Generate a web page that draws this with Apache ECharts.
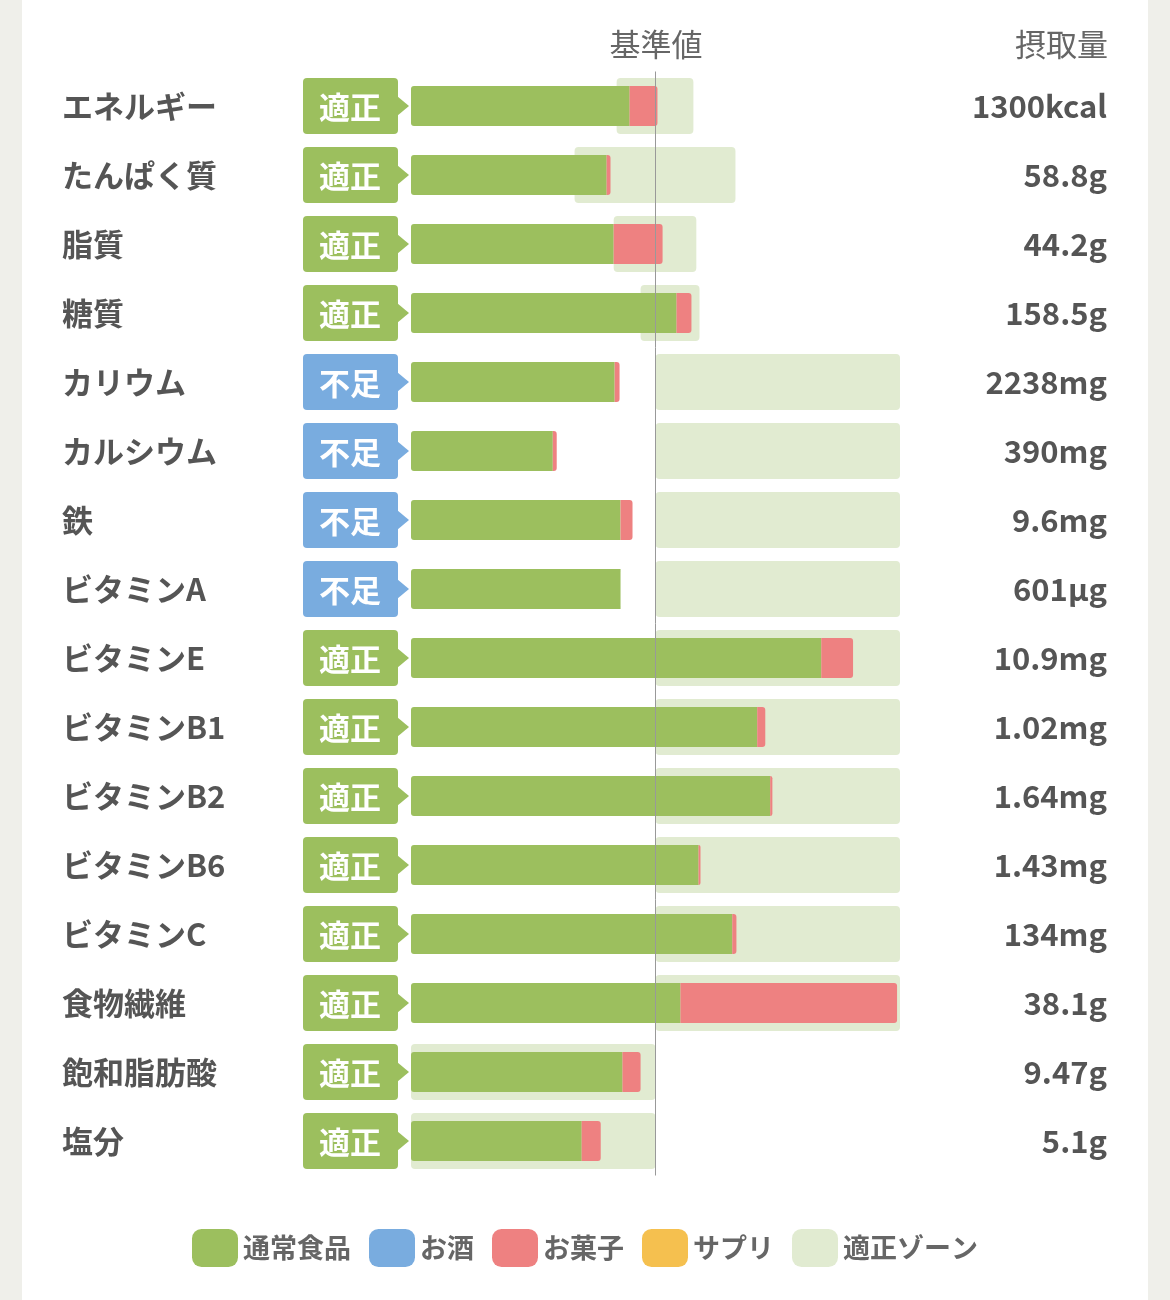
<!DOCTYPE html>
<html><head><meta charset="utf-8">
<script src="https://cdn.jsdelivr.net/npm/echarts@6/dist/echarts.min.js"></script>
<style>html,body{margin:0;padding:0;background:#efefea}#c{width:1170px;height:1300px}</style>
</head><body><div id="c"></div>
<script>
const categories = ['エネルギー','たんぱく質','脂質','糖質','カリウム','カルシウム','鉄','ビタミンA','ビタミンE','ビタミンB1','ビタミンB2','ビタミンB6','ビタミンC','食物繊維','飽和脂肪酸','塩分'];
const intake = ['1300kcal','58.8g','44.2g','158.5g','2238mg','390mg','9.6mg','601µg','10.9mg','1.02mg','1.64mg','1.43mg','134mg','38.1g','9.47g','5.1g'];
const status = ['適正','適正','適正','適正','不足','不足','不足','不足','適正','適正','適正','適正','適正','適正','適正','適正'];
// percent of reference value
const normalFood = [89.4,80,82.9,108.6,83.3,58,85.7,85.7,167.8,141.6,146.9,117.6,131.4,110.2,86.5,69.8];
const snacks = [11.4,1.6,20,6.1,2,1.6,4.9,0,13,3.3,0.9,0.8,1.7,88.6,7.4,7.8];
const zoneLow = [84.1,66.9,82.9,93.9,100,100,100,100,100,100,100,100,100,100,0,0];
const zoneHigh = [115.5,132.7,116.7,118,200,200,200,200,200,200,200,200,200,200,100,100];

const GREEN='#9cbf5e', RED='#ee8181', BLUE='#79acdf', YEL='#f5c04f', ZONE='#e1ebd1';
const chart = echarts.init(document.getElementById('c'));
chart.setOption({
  backgroundColor:'#efefea',
  animation:false,
  graphic:[
    {type:'rect',shape:{x:22,y:0,width:1126,height:1300},style:{fill:'#fff'},z:-100},
    {type:'text',x:656,y:44,style:{text:'基準値',fill:'#666',font:'31px "Noto Sans CJK JP"',textAlign:'center',textVerticalAlign:'middle'}},
    {type:'text',x:1108,y:44,style:{text:'摂取量',fill:'#666',font:'31px "Noto Sans CJK JP"',textAlign:'right',textVerticalAlign:'middle'}}
  ],
  grid:{left:411,right:270,top:71.5,bottom:124.5},
  legend:{bottom:28,left:'center',icon:'roundRect',itemWidth:46,itemHeight:38,itemGap:18,
    textStyle:{fontSize:27,fontWeight:'bold',color:'#666',fontFamily:'Noto Sans CJK JP'},
    data:['通常食品','お酒','お菓子','サプリ','適正ゾーン']},
  xAxis:{type:'value',min:0,max:200,show:false},
  yAxis:[
    {type:'category',data:categories,inverse:true,axisLine:{show:false},axisTick:{show:false},
     axisLabel:{align:'left',margin:349,fontSize:31,fontWeight:'bold',color:'#555',fontFamily:'Noto Sans CJK JP'}},
    {type:'category',data:intake,inverse:true,position:'right',axisLine:{show:false},axisTick:{show:false},
     axisLabel:{align:'right',margin:207,fontSize:31,fontWeight:'bold',color:'#555',fontFamily:'Noto Sans CJK JP'}}
  ],
  series:[
    {name:'適正ゾーン',type:'custom',color:ZONE,z:1,
     data:zoneLow.map((v,i)=>[v,zoneHigh[i],i]),
     encode:{x:[0,1],y:2},
     renderItem:function(params,api){
       const a=api.coord([api.value(0),api.value(2)]), b=api.coord([api.value(1),api.value(2)]);
       return {type:'rect',shape:{x:a[0],y:a[1]-28,width:b[0]-a[0],height:56,r:4},style:{fill:ZONE}};
     }},
    {name:'通常食品',type:'bar',stack:'s',data:normalFood,barWidth:40,color:GREEN,z:3,
     itemStyle:{borderRadius:[3,0,0,3]},
     markLine:{silent:true,symbol:'none',label:{show:false},lineStyle:{color:'#999',width:1,type:'solid'},data:[{xAxis:100}]}},
    {name:'お酒',type:'bar',stack:'s',data:[],color:BLUE},
    {name:'お菓子',type:'bar',stack:'s',data:snacks,barWidth:40,color:RED,z:3,itemStyle:{borderRadius:[0,3,3,0]}},
    {name:'サプリ',type:'bar',stack:'s',data:[],color:YEL},
    {type:'custom',z:4,data:status.map((s,i)=>[0,i,s]),encode:{x:0,y:1},
     renderItem:function(params,api){
       const p=api.coord([0,api.value(1)]);
       const s=status[params.dataIndex];
       const x0=p[0]-108, y=p[1];
       const col=s==='不足'?BLUE:GREEN;
       return {type:'group',children:[
         {type:'rect',shape:{x:x0,y:y-28,width:95,height:56,r:4},style:{fill:col}},
         {type:'polygon',shape:{points:[[x0+94,y-10],[x0+106,y],[x0+94,y+10]]},style:{fill:col}},
         {type:'text',x:x0+47,y:y+1,style:{text:s,fill:'#fff',font:'bold 31px "Noto Sans CJK JP"',textAlign:'center',textVerticalAlign:'middle'}}
       ]};
     }}
  ]
});
</script></body></html>
